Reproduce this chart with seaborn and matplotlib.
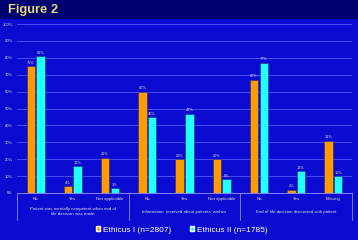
import matplotlib
matplotlib.use("Agg")
import matplotlib.pyplot as plt
import seaborn as sns
import pandas as pd
from matplotlib.patches import Rectangle

categories = ["No", "Yes", "Not applicable", "No", "Yes", "Not applicable", "No", "Yes", "Missing"]
groups = ["Patient was mentally competent when end of\nlife decision was made",
          "Information  received about patients' wishes",
          "End of life decision discussed with patient"]
series_names = ["Ethicus I (n=2807)", "Ethicus II (n=1785)"]
ethicus1 = [75, 4, 21, 60, 20, 20, 67, 2, 31]
ethicus2 = [81, 16, 3, 45, 47, 8, 77, 13, 10]
yticks = [0, 10, 20, 30, 40, 50, 60, 70, 80, 90, 100]

keys = [f"c{i}" for i in range(len(categories))]
rows = []
for k, a, b in zip(keys, ethicus1, ethicus2):
    rows.append({"cat": k, "series": series_names[0], "value": a})
    rows.append({"cat": k, "series": series_names[1], "value": b})
df = pd.DataFrame(rows)

sns.set_theme(style="white")
plt.rcParams["font.family"] = ["Liberation Sans", "DejaVu Sans"]

bg = "#0a0ad0"
fig = plt.figure(figsize=(3.58, 2.40), dpi=100, facecolor=bg)
ax = fig.add_axes([17/358, 1 - 193/240, (352 - 17)/358, (193 - 24)/240])
ax.set_facecolor(bg)

sns.barplot(data=df, x="cat", y="value", hue="series", order=keys,
            palette=["#ff9a00", "#22ffff"], width=0.52, gap=0.12,
            ax=ax, legend=False, saturation=1, edgecolor="#2a2a80", linewidth=0.4)

ax.set_ylim(0, 100)
ax.set_yticks(yticks)
ax.set_yticklabels([f"{t}%" for t in yticks], fontsize=3, color="#dddddd")
ax.set_xticks(range(len(categories)))
ax.set_xticklabels(categories, fontsize=3.2, color="#dddddd")
ax.tick_params(axis="both", length=0, pad=3)
ax.set_xlabel("")
ax.set_ylabel("")
ax.set_xlim(-0.5, len(categories) - 0.5)
for t in yticks[1:]:
    ax.axhline(t, color="#4646f5", lw=0.8, zorder=0)
for s in ["top", "right", "left"]:
    ax.spines[s].set_visible(False)
ax.spines["bottom"].set_color("#9999ff")
ax.spines["bottom"].set_linewidth(0.6)

for cont in ax.containers:
    ax.bar_label(cont, labels=[f"{int(v)}%" for v in cont.datavalues],
                 fontsize=2.8, color="#dddddd", padding=1)

# group separators and labels
trans = ax.get_xaxis_transform()
for xs in [-0.5, 2.5, 5.5, 8.5]:
    ax.plot([xs, xs], [0, -0.16], transform=trans, color="#8888ee", lw=0.6, clip_on=False)
for gi, g in enumerate(groups):
    ax.text(gi * 3 + 1, -0.11, g, transform=trans, ha="center", va="center",
            fontsize=3.2, color="#dddddd", linespacing=1.4)

# title band
fig.patches.append(Rectangle((0, 1 - 19/240), 1, 19/240, transform=fig.transFigure,
                             facecolor="#000070", edgecolor="none", zorder=0))
fig.text(8/358, 1 - 10/240, "Figure 2", fontsize=9.3, fontweight="bold",
         color="#e8d878", ha="left", va="center")

# legend
handles = [Rectangle((0, 0), 1, 1, facecolor=c) for c in ["#ff9a00", "#22ffff"]]
leg = fig.legend(handles, series_names, loc="center", bbox_to_anchor=(182/358, 1 - 230/240),
                 ncol=2, frameon=False, fontsize=6, handlelength=0.5, handleheight=0.5,
                 handletextpad=0.4, columnspacing=2.2)
for t in leg.get_texts():
    t.set_color("white")

fig.savefig("out.png", dpi=100, facecolor=bg)
